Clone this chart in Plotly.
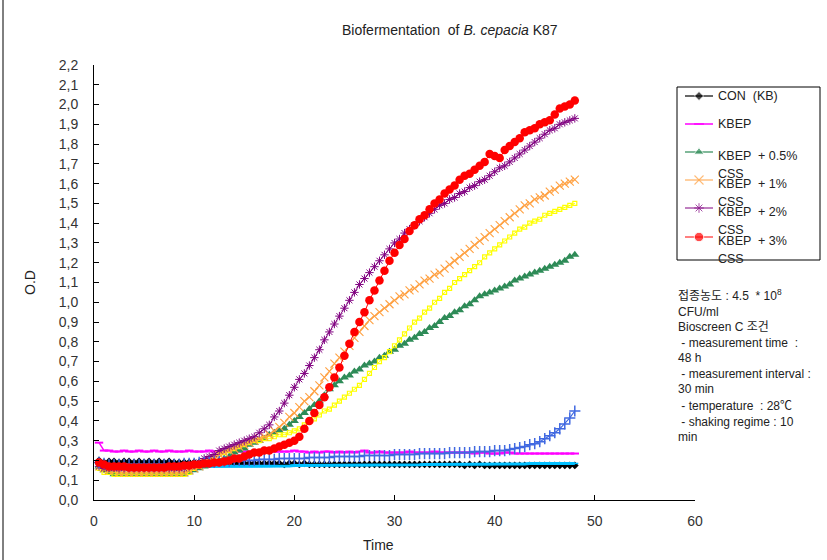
import plotly.graph_objects as go

time_h = [0.5 * i for i in range(1, 97)]

con_kb = [0.20,0.19,0.195,0.195,0.19,0.195,0.195,0.19,0.195,0.19,
          0.195,0.19,0.195,0.19,0.195,0.19,0.19,0.19,0.19,0.19,
          0.19,0.19,0.19,0.185,0.19,0.185,0.19,0.185,0.185,0.185,
          0.185,0.185,0.185,0.185,0.185,0.185,0.185,0.18,0.185,0.185,
          0.18,0.185,0.18,0.18,0.18,0.18,0.18,0.18,0.18,0.18,
          0.18,0.18,0.18,0.18,0.18,0.18,0.18,0.18,0.18,0.18,
          0.18,0.18,0.18,0.18,0.18,0.18,0.18,0.18,0.18,0.18,
          0.18,0.18,0.18,0.175,0.18,0.175,0.18,0.175,0.175,0.175,
          0.175,0.175,0.175,0.175,0.175,0.175,0.175,0.175,0.175,0.175,
          0.175,0.175,0.175,0.175,0.175,0.175]

kbep = [0.29,0.25,0.25,0.245,0.245,0.25,0.245,0.245,0.25,0.245,
        0.245,0.25,0.245,0.245,0.25,0.245,0.245,0.245,0.25,0.245,
        0.245,0.245,0.25,0.245,0.245,0.245,0.245,0.25,0.245,0.245,
        0.245,0.245,0.245,0.25,0.245,0.245,0.245,0.245,0.245,0.25,
        0.245,0.245,0.24,0.245,0.24,0.245,0.245,0.24,0.245,0.24,
        0.245,0.24,0.245,0.25,0.24,0.24,0.245,0.24,0.24,0.24,
        0.24,0.24,0.245,0.24,0.24,0.24,0.24,0.245,0.24,0.24,
        0.24,0.24,0.24,0.24,0.24,0.235,0.24,0.24,0.235,0.235,
        0.235,0.24,0.24,0.235,0.235,0.235,0.235,0.235,0.235,0.235,
        0.235,0.235,0.235,0.235,0.235,0.235]

css_05 = [0.17,0.15,0.14,0.13,0.13,0.13,0.13,0.13,0.13,0.13,
          0.13,0.13,0.13,0.13,0.13,0.13,0.13,0.13,0.14,0.15,
          0.16,0.17,0.18,0.19,0.20,0.21,0.22,0.24,0.25,0.26,
          0.28,0.29,0.30,0.31,0.33,0.34,0.35,0.36,0.38,0.40,
          0.42,0.44,0.46,0.48,0.50,0.53,0.56,0.58,0.60,0.62,
          0.63,0.65,0.66,0.68,0.69,0.70,0.72,0.73,0.75,0.76,
          0.78,0.79,0.81,0.82,0.84,0.85,0.87,0.88,0.90,0.92,
          0.93,0.95,0.96,0.98,0.99,1.01,1.03,1.04,1.05,1.06,
          1.07,1.08,1.09,1.11,1.12,1.13,1.14,1.15,1.16,1.17,
          1.18,1.19,1.20,1.21,1.23,1.24]

css_1 = [0.17,0.16,0.15,0.15,0.14,0.14,0.14,0.14,0.14,0.14,
         0.14,0.14,0.14,0.14,0.14,0.14,0.14,0.14,0.15,0.16,
         0.17,0.19,0.20,0.21,0.23,0.24,0.25,0.26,0.27,0.28,
         0.29,0.30,0.31,0.32,0.33,0.35,0.37,0.39,0.42,0.44,
         0.47,0.50,0.52,0.55,0.58,0.62,0.65,0.69,0.72,0.75,
         0.78,0.82,0.85,0.88,0.91,0.93,0.95,0.97,0.99,1.01,
         1.03,1.04,1.06,1.07,1.09,1.11,1.12,1.14,1.15,1.17,
         1.19,1.21,1.23,1.25,1.27,1.29,1.31,1.33,1.35,1.37,
         1.39,1.41,1.43,1.45,1.47,1.49,1.50,1.52,1.53,1.54,
         1.56,1.57,1.59,1.60,1.61,1.62]

css_2 = [0.17,0.16,0.16,0.16,0.16,0.16,0.16,0.16,0.16,0.16,
         0.16,0.16,0.16,0.16,0.16,0.16,0.16,0.16,0.17,0.18,
         0.19,0.21,0.22,0.23,0.25,0.26,0.27,0.28,0.29,0.30,
         0.31,0.32,0.34,0.36,0.38,0.42,0.45,0.49,0.53,0.57,
         0.61,0.64,0.68,0.72,0.76,0.81,0.85,0.89,0.93,0.97,
         1.01,1.05,1.09,1.12,1.15,1.18,1.21,1.24,1.27,1.30,
         1.32,1.35,1.37,1.39,1.41,1.43,1.45,1.47,1.49,1.50,
         1.52,1.53,1.55,1.56,1.58,1.59,1.61,1.62,1.64,1.66,
         1.68,1.69,1.71,1.73,1.75,1.77,1.79,1.81,1.83,1.85,
         1.87,1.88,1.90,1.91,1.92,1.93]

css_3 = [0.19,0.18,0.17,0.17,0.17,0.17,0.165,0.165,0.165,0.165,
         0.165,0.165,0.165,0.165,0.17,0.17,0.17,0.175,0.175,0.18,
         0.18,0.185,0.185,0.19,0.19,0.195,0.20,0.21,0.21,0.22,
         0.23,0.24,0.24,0.25,0.25,0.26,0.27,0.28,0.29,0.30,
         0.32,0.36,0.40,0.44,0.48,0.52,0.57,0.62,0.67,0.73,
         0.79,0.85,0.90,0.95,1.01,1.06,1.11,1.16,1.21,1.25,
         1.29,1.32,1.36,1.39,1.42,1.44,1.47,1.50,1.52,1.55,
         1.57,1.59,1.62,1.64,1.65,1.67,1.69,1.71,1.75,1.74,
         1.73,1.77,1.79,1.81,1.83,1.86,1.87,1.88,1.90,1.91,
         1.92,1.95,1.98,1.99,2.00,2.02]

series_yellow = [0.16,0.14,0.14,0.13,0.13,0.13,0.13,0.13,0.13,0.13,
                 0.13,0.13,0.13,0.13,0.13,0.13,0.13,0.13,0.14,0.16,
                 0.17,0.19,0.20,0.22,0.23,0.24,0.25,0.26,0.27,0.28,
                 0.29,0.30,0.30,0.31,0.31,0.32,0.33,0.33,0.34,0.35,
                 0.36,0.38,0.40,0.41,0.43,0.45,0.46,0.48,0.50,0.52,
                 0.54,0.56,0.58,0.61,0.64,0.67,0.70,0.72,0.75,0.78,
                 0.81,0.84,0.87,0.90,0.92,0.95,0.97,1.00,1.02,1.05,
                 1.07,1.10,1.12,1.14,1.16,1.18,1.20,1.23,1.25,1.27,
                 1.29,1.31,1.33,1.35,1.37,1.38,1.40,1.41,1.42,1.44,
                 1.45,1.46,1.47,1.48,1.49,1.50]

series_cyan = [0.18,0.17,0.165,0.165,0.165,0.165,0.165,0.165,0.165,0.165,
               0.165,0.165,0.165,0.165,0.165,0.165,0.165,0.165,0.165,0.17,
               0.17,0.17,0.17,0.17,0.17,0.17,0.17,0.17,0.17,0.17,
               0.17,0.17,0.17,0.17,0.17,0.172,0.172,0.172,0.172,0.175,
               0.175,0.175,0.175,0.175,0.175,0.175,0.175,0.175,0.175,0.175,
               0.175,0.175,0.175,0.175,0.175,0.178,0.178,0.178,0.178,0.178,
               0.178,0.178,0.178,0.178,0.178,0.18,0.18,0.18,0.18,0.18,
               0.18,0.18,0.18,0.18,0.18,0.18,0.18,0.18,0.18,0.182,
               0.182,0.182,0.182,0.182,0.182,0.182,0.185,0.185,0.185,0.185,
               0.185,0.185,0.185,0.185,0.185,0.185]

series_blue = [0.19,0.185,0.18,0.18,0.18,0.18,0.18,0.18,0.18,0.18,
               0.18,0.18,0.18,0.18,0.18,0.18,0.18,0.185,0.185,0.185,
               0.19,0.19,0.19,0.19,0.195,0.195,0.195,0.2,0.2,0.2,
               0.2,0.2,0.205,0.205,0.205,0.205,0.21,0.21,0.21,0.21,
               0.21,0.21,0.215,0.215,0.215,0.215,0.215,0.22,0.22,0.22,
               0.22,0.22,0.22,0.225,0.225,0.225,0.225,0.225,0.225,0.23,
               0.23,0.23,0.23,0.23,0.235,0.235,0.235,0.235,0.235,0.235,
               0.24,0.24,0.24,0.24,0.24,0.245,0.245,0.245,0.245,0.25,
               0.25,0.25,0.255,0.26,0.265,0.27,0.28,0.285,0.295,0.31,
               0.325,0.34,0.36,0.385,0.415,0.45]

y_ticks = [i / 10 for i in range(0, 23)]
y_tick_text = [f"{v:.1f}".replace(".", ",") for v in y_ticks]
x_ticks = [0, 10, 20, 30, 40, 50, 60]

legend_names = ["CON  (KB)", "KBEP", "KBEP  + 0.5%", "KBEP  + 1%", "KBEP  + 2%", "KBEP  + 3%"]

W, H = 827, 560
FONT = "Liberation Sans, Noto Sans CJK KR, Arial, sans-serif"

# style per series: (data, color, symbol, size, line width, marker line width)
styles = [
    (con_kb, "#000000", "diamond", 6, 1.2, 0),
    (kbep, "#FF00FF", "line-ew", 6, 1.5, 2),
    (series_cyan, "#00BFFF", "line-ew", 5, 3, 1.5),
    (css_05, "#2E8B57", "triangle-up", 8, 1.2, 0),
    (series_yellow, "#FFFF00", "square-open", 4, 1, 1.2),
    (css_1, "#FFA040", "x-thin", 8, 1, 1.1),
    (css_2, "#800080", "asterisk", 7, 1, 1),
    (series_blue, "#4169E1", "cross-thin", 8, 1.2, 1.5),
    (css_3, "#FF0000", "circle", 8.5, 1, 0),
]

fig = go.Figure()
for data, color, sym, size, lw, mlw in styles:
    marker = dict(symbol=sym, size=size, color=color)
    if mlw:
        marker["line"] = dict(color=color, width=mlw)
    fig.add_trace(go.Scatter(x=time_h, y=data, mode="lines+markers",
                             line=dict(color=color, width=lw), marker=marker,
                             showlegend=False, xaxis="x", yaxis="y"))

# custom legend (pixel overlay axes)
leg_styles = [styles[0], styles[1], styles[3], styles[5], styles[6], styles[8]]
leg_y = [96, 124, 152, 180, 208, 237]
for (data, color, sym, size, lw, mlw), yy, name in zip(leg_styles, leg_y, legend_names):
    marker = dict(symbol=sym, size=[0, size + 1, 0], color=color)
    if mlw:
        marker["line"] = dict(color=color, width=mlw)
    fig.add_trace(go.Scatter(x=[685, 699, 713], y=[yy, yy, yy], mode="lines+markers",
                             line=dict(color=color, width=lw), marker=marker,
                             showlegend=False, xaxis="x2", yaxis="y2", cliponaxis=False))

annotations = []
for i, (yy, name) in enumerate(zip(leg_y, legend_names)):
    off = 0 if i < 2 else 4
    annotations.append(dict(x=716, y=yy + off, xref="x2", yref="y2", text=name, showarrow=False,
                            xanchor="left", yanchor="middle", font=dict(family=FONT, size=12.5, color="#222")))
    if i >= 2:
        annotations.append(dict(x=716, y=yy + 22, xref="x2", yref="y2", text="CSS", showarrow=False,
                                xanchor="left", yanchor="middle", font=dict(family=FONT, size=12.5, color="#222")))

info_lines = ["접종농도 : 4.5  * 10<sup>8</sup>", "CFU/ml", "Bioscreen C 조건",
              " - measurement time  :", "48 h", " - measurement interval :", "30 min",
              " - temperature  : 28℃", " - shaking regime : 10", "min"]
info_y = [295, 312, 327, 343, 358, 374, 389, 406, 422, 437]
for t, yy in zip(info_lines, info_y):
    annotations.append(dict(x=676, y=yy, xref="x2", yref="y2", text=t, showarrow=False,
                            xanchor="left", yanchor="middle", font=dict(family=FONT, size=12, color="#222")))

annotations.append(dict(x=450, y=30, xref="x2", yref="y2",
                        text="Biofermentation  of <i>B. cepacia</i> K87", showarrow=False,
                        xanchor="center", yanchor="middle", font=dict(family=FONT, size=14, color="#222")))
annotations.append(dict(x=378, y=545, xref="x2", yref="y2", text="Time", showarrow=False,
                        xanchor="center", yanchor="middle", font=dict(family=FONT, size=14, color="#222")))
annotations.append(dict(x=30, y=283, xref="x2", yref="y2", text="O.D", showarrow=False, textangle=-90,
                        xanchor="center", yanchor="middle", font=dict(family=FONT, size=14, color="#222")))

shapes = [
    dict(type="rect", xref="x2", yref="y2", x0=677, y0=87, x1=820, y1=260,
         line=dict(color="#000", width=1), fillcolor="rgba(0,0,0,0)", layer="below"),
    dict(type="line", xref="x2", yref="y2", x0=3, y0=0, x1=3, y1=H,
         line=dict(color="#000", width=1)),
]

fig.update_layout(
    width=W, height=H, margin=dict(l=0, r=0, t=0, b=0),
    paper_bgcolor="white", plot_bgcolor="rgba(0,0,0,0)", showlegend=False,
    xaxis=dict(domain=[94 / W, 695 / W], range=[0, 60], tickvals=x_ticks, ticks="inside", ticklen=5,
               tickcolor="#000", showline=True, linecolor="#000", linewidth=1, showgrid=False,
               zeroline=False, tickfont=dict(family=FONT, size=14, color="#333"), anchor="y",
               automargin=False, ticklabelstandoff=8),
    yaxis=dict(domain=[(H - 500) / H, (H - 65) / H], range=[0, 2.2], tickvals=y_ticks,
               ticktext=y_tick_text, ticks="inside", ticklen=5, tickcolor="#000", showline=True,
               linecolor="#000", linewidth=1, showgrid=False, zeroline=False,
               tickfont=dict(family=FONT, size=14, color="#333"), anchor="x", automargin=False,
               ticklabelstandoff=12),
    xaxis2=dict(domain=[0, 1], range=[0, W], visible=False, anchor="y2", fixedrange=True),
    yaxis2=dict(domain=[0, 1], range=[H, 0], visible=False, anchor="x2", fixedrange=True),
    annotations=annotations, shapes=shapes,
)

fig.write_html("out.html", config={"displayModeBar": False},
               post_script="document.body.style.margin='0';")
